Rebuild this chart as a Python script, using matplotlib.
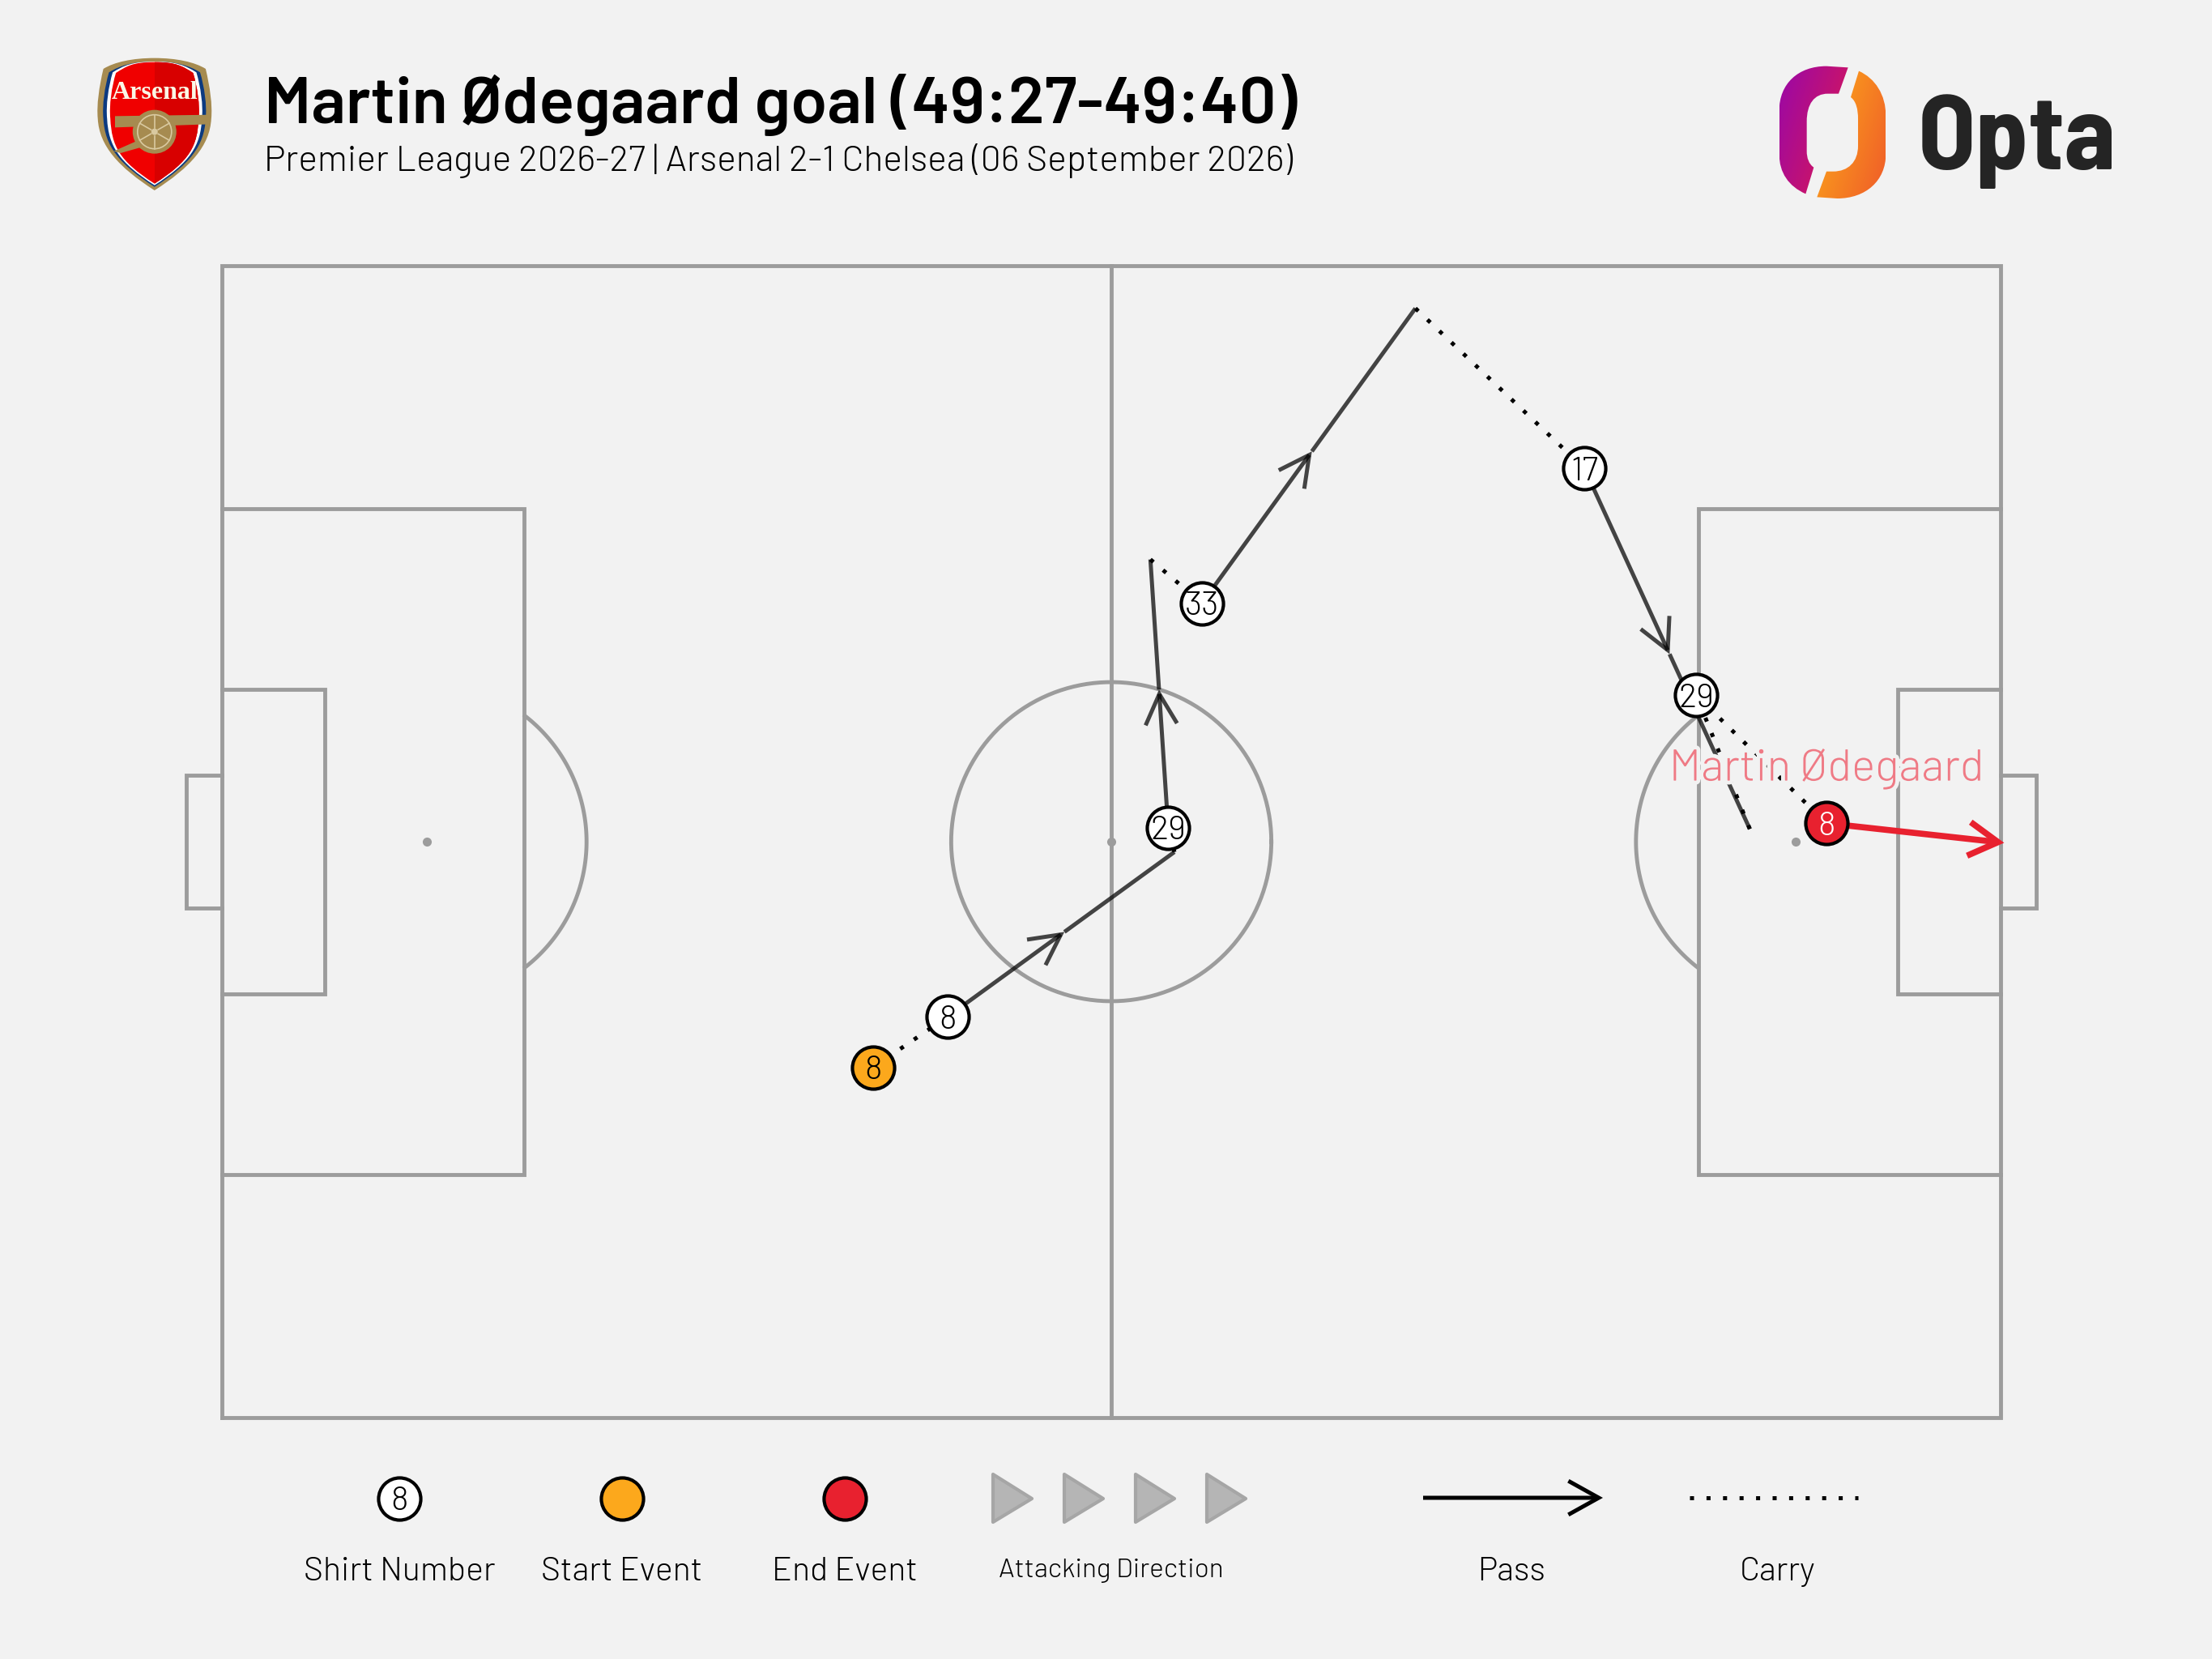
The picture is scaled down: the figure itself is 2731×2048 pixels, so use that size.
import numpy as np
import matplotlib
matplotlib.use("Agg")
import matplotlib.pyplot as plt
import matplotlib.patheffects as pe
from matplotlib.patches import Circle, Polygon, Rectangle, PathPatch
from matplotlib.path import Path

W, H = 2731, 2048
BG = "#f2f2f2"
LINE = "#9c9c9c"
RED = "#e8212f"
ORANGE = "#fca81c"
BODY = ["Barlow", "Roboto", "DejaVu Sans"]
NARROW = ["Barlow Semi Condensed", "Roboto Condensed", "DejaVu Sans"]

TITLE = "Martin Ødegaard goal (49:27-49:40)"
SUBTITLE = "Premier League 2026-27 | Arsenal 2-1 Chelsea (06 September 2026)"
SCORER = "Martin Ødegaard"

# sequence, in Opta pitch units (0-100 both ways)
pass_x0 = [40.8, 53.2, 55.1, 76.6]
pass_y0 = [34.8, 51.2, 70.7, 82.4]
pass_x1 = [53.55, 52.2, 67.1, 85.9]
pass_y1 = [49.1, 74.5, 96.3, 51.1]
carry_x0 = [36.6, 53.55, 52.2, 67.1, 85.9, 82.9]
carry_y0 = [30.4, 49.1, 74.5, 96.3, 51.1, 62.7]
carry_x1 = [40.8, 53.2, 55.1, 76.6, 82.9, 90.2]
carry_y1 = [34.8, 51.2, 70.7, 82.4, 62.7, 51.6]
shot_x = [90.2, 100.2]
shot_y = [51.6, 49.9]

marker_x = [40.8, 53.2, 55.1, 76.6, 82.9]
marker_y = [34.8, 51.2, 70.7, 82.4, 62.7]
marker_num = ["8", "29", "33", "17", "29"]
start_x, start_y, start_num = 36.6, 30.4, "8"
end_x, end_y, end_num = 90.2, 51.6, "8"

legend_labels = ["Shirt Number", "Start Event", "End Event"]
legend_colors = ["white", ORANGE, RED]
legend_x = [493, 768, 1043]
triangle_x = [1226, 1314, 1402, 1490]

fig = plt.figure(figsize=(W / 100, H / 100), dpi=100, facecolor=BG)
ax = fig.add_axes([274 / W, 1 - 1750 / H, 2196 / W, 1422 / H])
ax.set_xlim(0, 100)
ax.set_ylim(0, 100)
ax.axis("off")
px = fig.add_axes([0, 0, 1, 1], zorder=-1)
px.set_xlim(0, W)
px.set_ylim(H, 0)
px.axis("off")

PLW = 3.5


def pline(xs, ys):
    ax.plot(xs, ys, color=LINE, lw=PLW, zorder=1, clip_on=False, solid_joinstyle="miter", solid_capstyle="projecting")


# pitch
pline([0, 100, 100, 0, 0], [0, 0, 100, 100, 0])
pline([50, 50], [0, 100])
for a, b in [(0, 1), (100, -1)]:
    pline([a, a + b * 17, a + b * 17, a], [21.1, 21.1, 78.9, 78.9])
    pline([a, a + b * 5.8, a + b * 5.8, a], [36.8, 36.8, 63.2, 63.2])
    pline([a, a - b * 2, a - b * 2, a], [44.2, 44.2, 55.8, 55.8])
    ax.plot([a + b * 11.5], [50], "o", color=LINE, ms=8, mew=0, zorder=1)
    t = np.linspace(-np.pi / 2, np.pi / 2, 200)
    ax_arc_x = a + b * (11.5 + 9.0 * np.cos(t))
    ax_arc_y = 50 + 13.85 * np.sin(t)
    keep = b * (ax_arc_x - a) >= 17
    ax.plot(ax_arc_x[keep], ax_arc_y[keep], color=LINE, lw=PLW, zorder=1)
t = np.linspace(0, 2 * np.pi, 300)
ax.plot(50 + 9.0 * np.cos(t), 50 + 13.85 * np.sin(t), color=LINE, lw=PLW, zorder=1)
ax.plot([50], [50], "o", color=LINE, ms=8, mew=0, zorder=1)


def arrow(target, p0, p1, color, lw, hl, hw, alpha=1.0, zorder=2):
    target.annotate("", xy=p1, xytext=p0, zorder=zorder, annotation_clip=False,
                    arrowprops=dict(arrowstyle=f"->,head_length={hl},head_width={hw}", mutation_scale=1,
                                    color=color, lw=lw, alpha=alpha, shrinkA=0, shrinkB=0,
                                    capstyle="butt", joinstyle="miter"))


# passes, arrow head about half way along
for x0, y0, x1, y1 in zip(pass_x0, pass_y0, pass_x1, pass_y1):
    mx, my = x0 + 0.515 * (x1 - x0), y0 + 0.515 * (y1 - y0)
    arrow(ax, (x0, y0), (mx, my), "black", 3.6, 27, 14, alpha=0.72)
    ax.plot([mx, x1], [my, y1], color="black", alpha=0.72, lw=3.6, solid_capstyle="butt", zorder=2)
# carries
for x0, y0, x1, y1 in zip(carry_x0, carry_y0, carry_x1, carry_y1):
    ax.plot([x0, x1], [y0, y1], color="black", lw=3.6, ls=(0, (1, 3.08)), dash_capstyle="butt", zorder=2.1)
# the shot
arrow(ax, (shot_x[0], shot_y[0]), (shot_x[1], shot_y[1]), RED, 5.5, 26, 15, zorder=2.2)

ms, mew = 37.5, 3
ax.plot(marker_x, marker_y, "o", ms=ms, mew=mew, mfc="white", mec="black", ls="none", zorder=3)
ax.plot([start_x], [start_y], "o", ms=ms, mew=mew, mfc=ORANGE, mec="black", zorder=3)
ax.plot([end_x], [end_y], "o", ms=ms, mew=mew, mfc=RED, mec="black", zorder=3)
for x, y, s, c in zip(marker_x + [start_x, end_x], marker_y + [start_y, end_y],
                      marker_num + [start_num, end_num], ["black"] * 6 + ["white"]):
    ax.text(x, y, s, color=c, fontsize=30, family=BODY, weight=300, ha="center", va="center_baseline", zorder=4)

ax.text(end_x, 55.3, SCORER, color="#ef7a85", fontsize=39.6, family=BODY, weight=300, ha="center", va="baseline",
        zorder=3.5, path_effects=[pe.withStroke(linewidth=7, foreground=BG)])

# header
px.text(326, 152, TITLE, fontsize=58.6, family=BODY, weight=600, color="black", va="baseline")
px.text(326, 211, SUBTITLE, fontsize=32.1, family=BODY, weight=300, color="black", va="baseline")

# legend
for x, c, lab in zip(legend_x, legend_colors, legend_labels):
    px.plot([x], [1850], "o", ms=ms, mew=mew, mfc=c, mec="black")
    px.text(x, 1951, lab, fontsize=29.5, family=BODY, weight=300, ha="center", va="baseline")
px.text(legend_x[0], 1850, "8", fontsize=30, family=BODY, weight=300, ha="center", va="center_baseline")
for x in triangle_x:
    px.add_patch(Polygon([(x, 1820), (x + 48, 1850), (x, 1879)], closed=True, fc="#b5b5b5", ec="#a6a6a6",
                         lw=3, joinstyle="round"))
px.text(1372, 1947, "Attacking Direction", fontsize=24, family=BODY, weight=300, ha="center", va="baseline")
arrow(px, (1757, 1849), (1979, 1849), "black", 3.6, 27, 15)
px.plot([2086, 2294], [1849, 1849], color="black", lw=3.6, ls=(0, (1, 3.08)), dash_capstyle="butt")
px.text(1866, 1951, "Pass", fontsize=29.5, family=BODY, weight=300, ha="center", va="baseline")
px.text(2195, 1951, "Carry", fontsize=29.5, family=BODY, weight=300, ha="center", va="baseline")


# --- Opta logo ---
def opta_pt(x, y):
    return 2140 + x / 3, 50 + y / 3


def make_path(segs):
    verts, codes = [], []
    for code, pts in segs:
        for p in pts:
            verts.append(opta_pt(*p))
            codes.append(code)
    verts.append(verts[0])
    codes.append(Path.CLOSEPOLY)
    return Path(verts, codes)


M, L, C = Path.MOVETO, Path.LINETO, Path.CURVE4
opta_left = make_path([(M, [(425, 100)]), (L, [(390, 197), (350, 197)]), (C, [(300, 197), (272, 235), (272, 300)]),
                       (L, [(272, 410)]), (C, [(272, 435), (280, 458), (298, 470)]), (L, [(268, 568)]),
                       (C, [(205, 540), (170, 490), (170, 420)]), (L, [(170, 260)]),
                       (C, [(170, 160), (240, 95), (345, 95)]), (L, [(425, 100)])])
opta_right = make_path([(M, [(465, 113)]), (C, [(525, 140), (565, 200), (565, 280)]), (L, [(565, 420)]),
                        (C, [(565, 520), (490, 585), (385, 585)]), (L, [(310, 580), (345, 485), (370, 485)]),
                        (C, [(425, 485), (462, 450), (462, 390)]), (L, [(462, 290)]),
                        (C, [(462, 255), (455, 225), (435, 210)]), (L, [(465, 113)])])


def grad_fill(path, c0, c1, box):
    xx, yy = np.meshgrid(np.linspace(box[0], box[1], 200), np.linspace(box[2], box[3], 200))
    t = np.clip((0.95 * (xx - box[0]) + 0.3 * (yy - box[2])) / (0.95 * (box[1] - box[0]) + 0.3 * (box[3] - box[2])), 0, 1)
    t = t[..., None]
    img = np.array(c0) * (1 - t) + np.array(c1) * t
    x0, y0 = opta_pt(box[0], box[2])
    x1, y1 = opta_pt(box[1], box[3])
    im = px.imshow(img, extent=(x0, x1, y1, y0), aspect="auto", interpolation="bilinear", zorder=2)
    im.set_clip_path(path, transform=px.transData)


grad_fill(opta_left, (0.60, 0.03, 0.66), (0.88, 0.10, 0.30), (170, 430, 95, 570))
grad_fill(opta_right, (0.99, 0.68, 0.10), (0.94, 0.36, 0.16), (310, 565, 113, 585))
px.set_xlim(0, W)
px.set_ylim(H, 0)
px.text(2368, 209, "Opta", fontsize=94, family=NARROW, weight=700, color="#242424", va="baseline")


# --- Arsenal crest ---
def cp(x, y):
    return 80 + x * 0.574, 40 + y / 3


def shield(dx, top, tip):
    r = [(193, top), (240, top), (280 - dx, top + 15), (303 - dx, top + 40), (312 - dx, 200), (318 - dx, 270),
         (315 - dx, 320), (312 - dx, 420), (270, tip - 85), (193, tip)]
    l = [(386 - x, y) for x, y in r[-2::-1]]
    pts = r + l
    codes = [M] + [C] * (len(pts) - 1)
    return Path([cp(*p) for p in pts], codes)


GOLD = "#a68b50"
px.add_patch(PathPatch(shield(0, 95, 585), fc=GOLD, ec="none", zorder=2))
px.add_patch(PathPatch(shield(12, 108, 572), fc="#0c3a80", ec="none", zorder=2.1))
px.add_patch(PathPatch(shield(20, 108, 566), fc="white", ec="none", zorder=2.2))
red_shape = PathPatch(shield(27, 110, 560), fc="#f00000", ec="none", zorder=2.3)
px.add_patch(red_shape)
dark = Rectangle(cp(193, 90), 60, 180, fc="#d80000", ec="none", zorder=2.35)
px.add_patch(dark)
dark.set_clip_path(red_shape)
px.add_patch(Polygon([cp(108, 310), cp(315, 305), cp(312, 340), cp(108, 352)], fc=GOLD, ec="none", zorder=2.4))
px.add_patch(Polygon([cp(105, 440), cp(155, 402), cp(165, 425), cp(120, 447)], fc=GOLD, ec="none", zorder=2.4))
wc = cp(193, 368)
px.add_patch(Circle(wc, 27, fc=GOLD, ec="none", zorder=2.5))
px.add_patch(Circle(wc, 21, fc="none", ec="#d9c9a0", lw=1.2, zorder=2.6))
px.add_patch(Circle(wc, 4, fc="#d9c9a0", ec="none", zorder=2.6))
for ang in np.deg2rad([30, 90, 150, 210, 270, 330]):
    px.plot([wc[0] + 5 * np.cos(ang), wc[0] + 21 * np.cos(ang)], [wc[1] + 5 * np.sin(ang), wc[1] + 21 * np.sin(ang)],
            color="#d9c9a0", lw=1.2, zorder=2.6)
px.text(cp(193, 0)[0], 122, "Arsenal", fontsize=23, family=["Liberation Serif", "DejaVu Serif"], weight="bold",
        color="#fbf7e6", ha="center", va="baseline", zorder=2.7)

fig.savefig("out.png", dpi=100, facecolor=BG)
